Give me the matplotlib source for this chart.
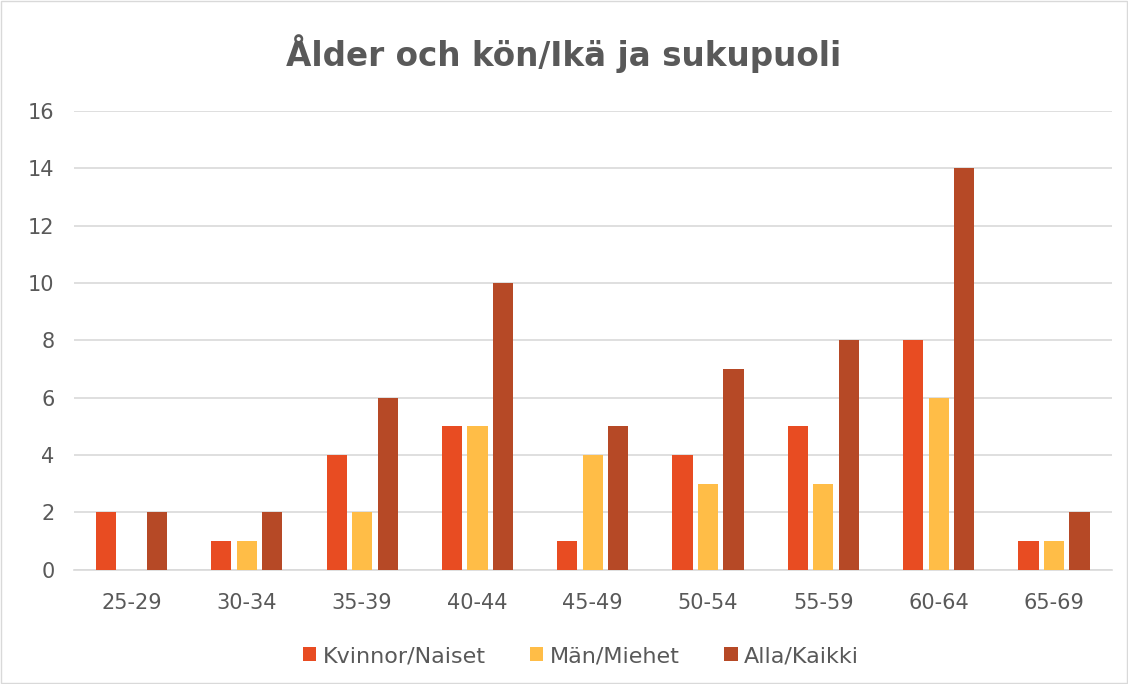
import numpy as np
import matplotlib.pyplot as plt

# data
kategorier = ['25-29', '30-34', '35-39', '40-44', '45-49', '50-54', '55-59', '60-64', '65-69']
kvinnor = [2, 1, 4, 5, 1, 4, 5, 8, 1]
man = [0, 1, 2, 5, 4, 3, 3, 6, 1]
alla = [2, 2, 6, 10, 5, 7, 8, 14, 2]
serier = ['Kvinnor/Naiset', 'Män/Miehet', 'Alla/Kaikki']
farger = ['#E84C22', '#FFBD47', '#B64926']

grå = '#595959'
fig = plt.figure(figsize=(11.28, 6.84), dpi=100)
ax = fig.add_axes([0.0655, 0.167, 0.920, 0.671])

x = np.arange(len(kategorier))
b = 0.175
steg = 0.221
for i, (vals, namn, f) in enumerate(zip([kvinnor, man, alla], serier, farger)):
    ax.bar(x + (i - 1) * steg, vals, b, color=f, label=namn, zorder=3)

ax.set_xlim(-0.5, len(kategorier) - 0.5)
ax.set_ylim(0, 16)
ax.set_yticks(range(0, 17, 2))
ax.set_xticks(x)
ax.set_xticklabels(kategorier)
ax.grid(axis='y', color='#D9D9D9', linewidth=1.2, zorder=0)
for s in ['top', 'right', 'left']:
    ax.spines[s].set_visible(False)
ax.spines['bottom'].set_color('#D9D9D9')
ax.spines['bottom'].set_linewidth(1.2)
ax.tick_params(length=0, labelsize=15, labelcolor=grå)
ax.tick_params(axis='x', pad=17)
ax.tick_params(axis='y', pad=14)

fig.suptitle('Ålder och kön/Ikä ja sukupuoli', fontsize=23.5, fontweight='bold',
             color=grå, y=0.95)
fig.legend(loc='lower center', ncol=3, frameon=False, fontsize=16,
           labelcolor=grå, bbox_to_anchor=(0.515, -0.003), handlelength=0.6,
           handleheight=0.6, handletextpad=0.3, columnspacing=2.0)

# ram runt diagrammet
fig.patches.append(plt.Rectangle((0.001, 0.001), 0.998, 0.998, transform=fig.transFigure,
                                 fill=False, edgecolor='#D9D9D9', linewidth=1))
fig.savefig('out.png', dpi=100)
